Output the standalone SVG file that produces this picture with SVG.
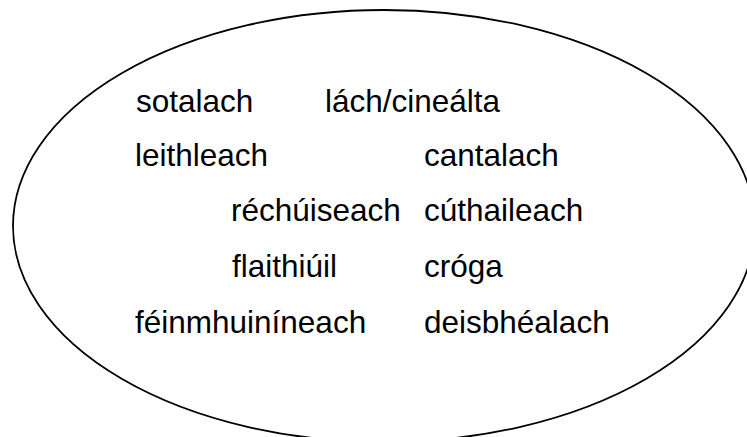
<svg xmlns="http://www.w3.org/2000/svg" width="747" height="437" viewBox="0 0 747 437">
  <style>
    .bg { fill: #ffffff; }
    .outline { fill: none; stroke: #000000; stroke-width: 1.8; }
    .word { font-family: "Liberation Sans", Arial, sans-serif; font-size: 31.5px; fill: #000000; }
  </style>
  <rect class="bg" x="0" y="0" width="747" height="437"/>
  <g id="ellipse">
    <ellipse class="outline" cx="384" cy="226" rx="371" ry="216"/>
  </g>
  <g id="connectors"></g>
  <g id="sotalach"><text class="word" x="136" y="112">sotalach</text></g>
  <g id="lach-cinealta"><text class="word" x="325" y="112">lách/cineálta</text></g>
  <g id="leithleach"><text class="word" x="135" y="166">leithleach</text></g>
  <g id="cantalach"><text class="word" x="424" y="166">cantalach</text></g>
  <g id="rechuiseach"><text class="word" x="231" y="221">réchúiseach</text></g>
  <g id="cuthaileach"><text class="word" x="424" y="221">cúthaileach</text></g>
  <g id="flaithiuil"><text class="word" x="232" y="277">flaithiúil</text></g>
  <g id="croga"><text class="word" x="424" y="277">cróga</text></g>
  <g id="feinmhuinineach"><text class="word" x="135" y="333">féinmhuiníneach</text></g>
  <g id="deisbhealach"><text class="word" x="424" y="333">deisbhéalach</text></g>
</svg>
